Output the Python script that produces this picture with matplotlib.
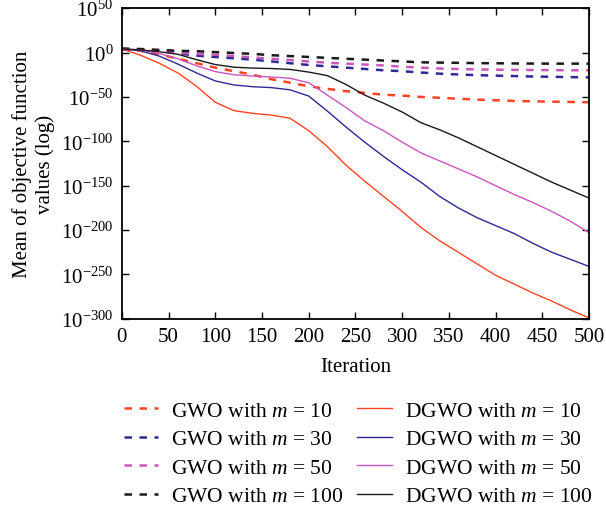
import numpy as np
import matplotlib
matplotlib.use("Agg")
import matplotlib.pyplot as plt
from matplotlib.ticker import FixedLocator, LogFormatterMathtext, NullLocator

plt.rcParams['font.family'] = ['Liberation Serif', 'DejaVu Serif']
plt.rcParams['mathtext.fontset'] = 'custom'
plt.rcParams['mathtext.rm'] = 'Liberation Serif'
plt.rcParams['mathtext.it'] = 'Liberation Serif:italic'

iterations = list(range(0, 501, 20))

# log10 of mean objective value
gwo_m10 = [4, 2, -2, -7, -12, -17, -21, -25, -30, -34, -38, -41, -43.5, -45.5, -47.5, -48.5,
           -50, -51, -52, -53, -53.8, -54.5, -55, -55.3, -55.7, -56]
gwo_m30 = [4, 3.5, 2, -1, -3.5, -5, -6.5, -8, -10, -12, -14, -15.5, -17, -18.5, -20, -21,
           -22.5, -23.8, -24.7, -25.5, -26, -26.5, -27, -27.3, -27.7, -28]
gwo_m50 = [4, 3.5, 2, 0, -1.5, -2.5, -4, -5.5, -7, -8.5, -10, -11.5, -12.5, -13.5, -14.5, -16,
           -17, -18, -18.5, -19, -19.3, -19.5, -19.7, -19.8, -20, -20]
gwo_m100 = [4.5, 4, 3, 2, 1.5, 0.5, -0.5, -1.5, -3, -4, -5, -6, -7, -8, -9, -10,
            -11, -11.3, -11.6, -11.9, -12.1, -12.3, -12.4, -12.5, -12.5, -12.5]
dgwo_m10 = [4, -3, -12, -23, -38, -56, -65.5, -68.5, -70.5, -74, -88, -106, -127, -145, -162, -179,
            -197, -212, -225, -238, -251, -261, -271, -280, -290, -299]
dgwo_m30 = [4, 2, -4, -13, -23, -32, -36.5, -38.5, -39.5, -42, -49, -66, -84, -101, -117, -132,
            -146, -162, -175, -186, -195, -204, -215, -225, -233, -241]
dgwo_m50 = [4, 3, -1, -7, -15, -21.5, -25, -26.5, -27.5, -29, -34, -48, -62, -77, -88, -101,
            -113, -122, -131, -140, -150, -160, -169, -179, -190, -203]
dgwo_m100 = [4, 3, 1, -2, -8, -13.5, -16.5, -17.5, -18, -19, -22, -26, -36, -48, -57, -67,
             -79, -87, -96, -106, -116, -126, -136, -146, -155, -164]

m_values = [10, 30, 50, 100]
colors = ['#FF4422', '#2C2A95', '#CC55BB', '#1A1A1A']
gwo_series = [gwo_m10, gwo_m30, gwo_m50, gwo_m100]
dgwo_series = [dgwo_m10, dgwo_m30, dgwo_m50, dgwo_m100]

fig = plt.figure(figsize=(6.06, 5.10), dpi=100)
ax = fig.add_axes([0.201, 0.373, 0.771, 0.609])

x = np.array(iterations)
handles = []
for m, c, s in zip(m_values, colors, gwo_series):
    h, = ax.plot(x, 10.0 ** np.array(s), color=c, lw=1.8, ls=(0, (3, 3)),
                 label=f'GWO with $m$ = {m}')
    handles.append(h)
for m, c, s in zip(m_values, colors, dgwo_series):
    h, = ax.plot(x, 10.0 ** np.array(s), color=c, lw=1.0, ls='-',
                 label=f'DGWO with $m$ = {m}')
    handles.append(h)

ax.set_yscale('log')
ax.set_xlim(0, 500)
ax.set_ylim(1e-300, 1e50)
ax.yaxis.set_major_locator(FixedLocator(10.0 ** np.arange(-300, 51, 50)))
ax.yaxis.set_major_formatter(LogFormatterMathtext())
ax.yaxis.set_minor_locator(NullLocator())
ax.set_xticks(range(0, 501, 50))
ax.tick_params(direction='in', top=True, right=True, length=5, width=1.0,
               labelsize=15, pad=6)
for sp in ax.spines.values():
    sp.set_linewidth(1.3)

ax.set_xlabel('Iteration', fontsize=15, labelpad=8)
ax.set_ylabel('Mean of objective function\nvalues (log)', fontsize=15, labelpad=4,
              linespacing=1.25)

fig.legend(handles=handles, ncol=2, loc='upper left', bbox_to_anchor=(0.172, 0.25),
           frameon=False, fontsize=15.5, handlelength=1.6, handletextpad=0.6,
           columnspacing=0.65, labelspacing=0.39)

fig.savefig('out.png', dpi=100)
